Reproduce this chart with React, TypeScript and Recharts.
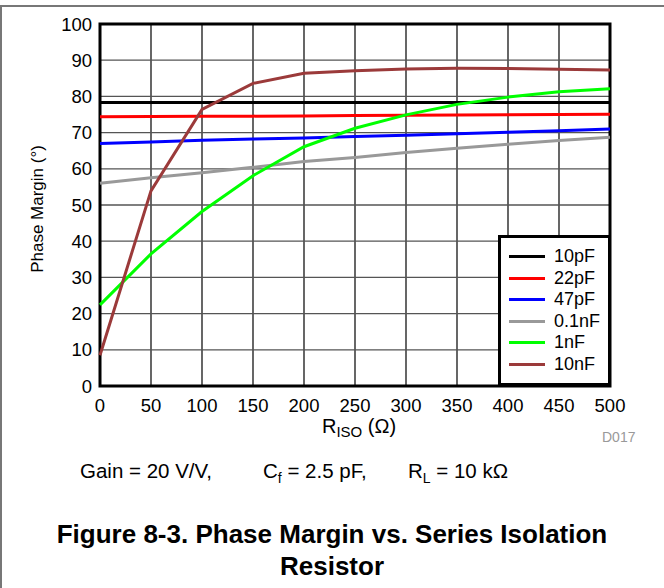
import {
  LineChart,
  Line,
  XAxis,
  YAxis,
  CartesianGrid,
  ReferenceArea,
  Legend,
} from 'recharts';

const rIso = [0, 50, 100, 150, 200, 250, 300, 350, 400, 450, 500];
const pm10pF = [78.3, 78.3, 78.3, 78.3, 78.3, 78.3, 78.3, 78.3, 78.3, 78.3, 78.3];
const pm22pF = [74.4, 74.45, 74.5, 74.55, 74.6, 74.7, 74.8, 74.85, 74.9, 75.0, 75.1];
const pm47pF = [67.0, 67.4, 67.9, 68.2, 68.5, 68.9, 69.3, 69.7, 70.1, 70.5, 71.0];
const pm01nF = [56.0, 57.5, 58.9, 60.4, 62.0, 63.1, 64.5, 65.7, 66.8, 67.8, 68.7];
const pm1nF = [22.4, 36.5, 48.2, 58.1, 66.1, 71.2, 74.9, 77.8, 79.8, 81.3, 82.1];
const pm10nF = [8.5, 53.9, 76.4, 83.6, 86.4, 87.1, 87.6, 87.8, 87.7, 87.5, 87.3];

const xTicks = [0, 50, 100, 150, 200, 250, 300, 350, 400, 450, 500];
const yTicks = [0, 10, 20, 30, 40, 50, 60, 70, 80, 90, 100];

const series = [
  { key: 'c10pF', name: '10pF', color: '#000000', values: pm10pF },
  { key: 'c22pF', name: '22pF', color: '#ff0000', values: pm22pF },
  { key: 'c47pF', name: '47pF', color: '#0000ff', values: pm47pF },
  { key: 'c01nF', name: '0.1nF', color: '#999999', values: pm01nF },
  { key: 'c1nF', name: '1nF', color: '#00ff00', values: pm1nF },
  { key: 'c10nF', name: '10nF', color: '#9b3a3a', values: pm10nF },
];

const chartData = rIso.map((r, i) => {
  const row: Record<string, number> = { r };
  for (const s of series) row[s.key] = s.values[i];
  return row;
});

const FONT = '"Liberation Sans", Arial, Helvetica, sans-serif';

function LegendBox() {
  return (
    <div
      style={{
        width: 113,
        height: 151,
        boxSizing: 'border-box',
        border: '3px solid #000',
        background: '#fff',
        paddingTop: 8,
        fontFamily: FONT,
        fontSize: 18,
        color: '#000',
      }}
    >
      {series.map((s) => (
        <div key={s.key} style={{ display: 'flex', alignItems: 'center', height: 21.5 }}>
          <div style={{ width: 36, height: 3, background: s.color, marginLeft: 8, marginRight: 9 }} />
          <span>{s.name}</span>
        </div>
      ))}
    </div>
  );
}

function XTitle({ viewBox }: any) {
  const cx = viewBox.x + viewBox.width / 2 + 4;
  return (
    <text x={cx} y={433} textAnchor="middle" fontFamily={FONT} fontSize={20} fill="#000">
      <tspan>R</tspan>
      <tspan fontSize={15} dy={4}>ISO</tspan>
      <tspan dy={-4}> (Ω)</tspan>
    </text>
  );
}

function YTitle({ viewBox }: any) {
  const cx = 43;
  const cy = viewBox.y + viewBox.height / 2 + 4;
  return (
    <text
      x={cx}
      y={cy}
      textAnchor="middle"
      transform={`rotate(-90, ${cx}, ${cy})`}
      fontFamily={FONT}
      fontSize={17}
      fill="#000"
    >
      Phase Margin (°)
    </text>
  );
}

export default function App() {
  return (
    <div
      style={{
        position: 'absolute',
        left: 0,
        top: 0,
        width: 664,
        height: 588,
        background: '#fff',
        fontFamily: FONT,
        overflow: 'hidden',
      }}
    >
      <div style={{ position: 'absolute', left: 0, top: 5, width: 664, height: 2, background: '#777' }} />
      <div style={{ position: 'absolute', left: 0, top: 5, width: 2, height: 583, background: '#777' }} />

      <div style={{ position: 'absolute', left: 0, top: 0 }}>
        <LineChart
          width={664}
          height={450}
          data={chartData}
          margin={{ top: 24, right: 54, left: 0, bottom: 34 }}
        >
          <CartesianGrid horizontal={false} stroke="#000" strokeWidth={1.2} />
          <CartesianGrid vertical={false} stroke="#555" strokeWidth={1.3} />
          <XAxis
            dataKey="r"
            type="number"
            domain={[0, 500]}
            ticks={xTicks}
            axisLine={false}
            tickLine={false}
            tickSize={0}
            tickMargin={13}
            height={30}
            interval={0}
            tick={{ fill: '#000', fontSize: 18.5, fontFamily: FONT }}
            label={<XTitle />}
          />
          <YAxis
            type="number"
            domain={[0, 100]}
            ticks={yTicks}
            axisLine={false}
            tickLine={false}
            tickSize={0}
            tickMargin={8}
            width={100}
            interval={0}
            tick={{ fill: '#000', fontSize: 18.5, fontFamily: FONT }}
            label={<YTitle />}
          />
          {series.map((s) => (
            <Line
              key={s.key}
              dataKey={s.key}
              name={s.name}
              type="linear"
              stroke={s.color}
              strokeWidth={3}
              dot={false}
              activeDot={false}
              isAnimationActive={false}
            />
          ))}
          <ReferenceArea
            x1={0}
            x2={500}
            y1={0}
            y2={100}
            fill="none"
            stroke="#000"
            strokeWidth={3}
            ifOverflow="visible"
          />
          <Legend
            layout="vertical"
            align="center"
            verticalAlign="middle"
            content={<LegendBox />}
            wrapperStyle={{ left: 498, top: 235, width: 113, height: 151 }}
          />
        </LineChart>
      </div>

      <div
        style={{
          position: 'absolute',
          left: 602,
          top: 429,
          fontSize: 14,
          color: '#999',
        }}
      >
        D017
      </div>

      <div style={{ position: 'absolute', top: 459, left: 0, width: 664, fontSize: 20.5, color: '#000' }}>
        <span style={{ position: 'absolute', left: 80 }}>Gain = 20 V/V,</span>
        <span style={{ position: 'absolute', left: 263 }}>
          C<sub style={{ fontSize: 14, verticalAlign: -5 }}>f</sub> = 2.5 pF,
        </span>
        <span style={{ position: 'absolute', left: 408 }}>
          R<sub style={{ fontSize: 14, verticalAlign: -5 }}>L</sub> = 10 kΩ
        </span>
      </div>

      <div
        style={{
          position: 'absolute',
          top: 518,
          left: 0,
          width: 664,
          textAlign: 'center',
          fontSize: 26,
          fontWeight: 'bold',
          lineHeight: '32px',
          color: '#000',
        }}
      >
        Figure 8-3. Phase Margin vs. Series Isolation
        <br />
        Resistor
      </div>
    </div>
  );
}
